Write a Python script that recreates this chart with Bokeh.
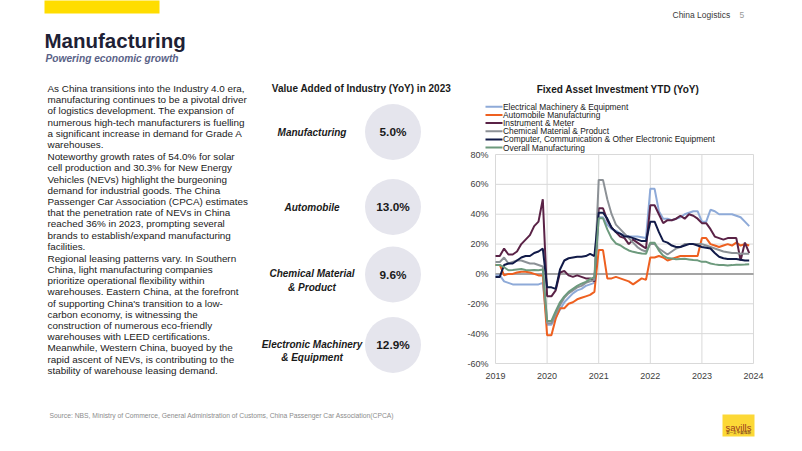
from bokeh.plotting import figure
from bokeh.models import Range1d
from bokeh.layouts import column, row
from bokeh.embed import file_html
from bokeh.resources import INLINE
from bokeh.core.properties import value

FONT = "Liberation Sans"

# ---------------- data ----------------
years = [2019, 2020, 2021, 2022, 2023]
x_ticks = [2019, 2020, 2021, 2022, 2023, 2024]
y_ticks = [-60, -40, -20, 0, 20, 40, 60, 80]

series_names = ["Electrical Machinery & Equipment", "Automobile Manufacturing",
                "Instrument & Meter", "Chemical Material & Product",
                "Computer, Communication & Other Electronic Equipment",
                "Overall Manufacturing"]
series_colors = ["#8eaad8", "#ee6020", "#5a2246", "#8c9196", "#111a48", "#6d9a7d"]

electrical = [-1, -1, -5, -6, -7, -7, -7, -7, -7, -7, -7, -6,
              -34, -34, -29, -24, -19, -16, -13, -11, -10, -8, -7, -6,
              38, 38, 33, 30, 29, 27, 26, 25, 25, 25, 24.5, 24,
              57, 57, 42, 37, 37, 36, 37, 38, 40, 41, 42, 42,
              35, 35, 43, 42, 40, 40, 40, 40, 39, 38, 35, 32]
automobile = [6, 6, -1, 0, 0, 1, 1.5, 1.5, 1, 0, -1, -1,
              -41, -41, -30, -23, -23, -20, -19, -17, -16, -15, -14, -12,
              16, 16, -3, -3, -2, -3, -4, -5, -7, -5, -3, -4,
              11, 11, 12, 11, 9, 10, 11, 12, 12, 12, 12, 12,
              24, 24, 20, 19, 18, 19, 20, 19, 21, 19, 20, 19]
instrument = [12, 12, 17, 13, 13, 15, 20, 23, 26, 32, 35, 50,
              -15, -15, -11, 1, 2, -1, -2, -1, -2, -3, -3, -5,
              44, 44, 36, 31, 28, 25, 24, 20, 23, 21, 19, 17,
              46, 46, 40, 34, 36, 36, 37, 39, 37, 40, 39, 37,
              34, 34, 30, 25, 24, 23, 24, 24, 24, 9, 21, 14]
chemical = [8, 8, 11, 7, 8, 9, 9, 8, 7, 7, 6, 5,
            -33, -33, -27, -21, -16, -13, -11, -9, -8, -6, -5, -4,
            63, 63, 50, 40, 33, 30, 27, 24, 21, 18, 16, 15,
            20, 20, 17, 15, 13, 15, 17, 18, 20, 20, 20, 20,
            20, 19, 18, 17, 16, 15, 14.5, 14, 14, 13.5, 13.5, 13.5]
computer = [-2, -2, 6, 7, 7, 9, 11, 12, 12, 14, 15, 17,
            -9, -9, -10, 3, 9, 10.5, 11, 11.5, 11.5, 12, 13.5, 12,
            41, 41, 37, 31, 28, 27, 25, 25, 24, 23, 22, 22,
            35, 35, 28, 22, 21, 19, 18, 18, 19, 20, 20, 19,
            18, 17.5, 17, 14, 11.5, 10.5, 10, 10, 10, 9.5, 9, 9]
overall = [6, 6, 4.5, 2.5, 2.7, 3, 3.3, 2.6, 2.5, 2.6, 2.5, 3,
           -31.5, -31.5, -25, -19, -15, -12, -10, -8, -6.5, -5.3, -3.5, -2.2,
           37.3, 37.3, 29.8, 23.8, 20.4, 19.2, 17.3, 15.7, 14.8, 14.2, 13.7, 13.5,
           20.9, 20.9, 15.6, 12.2, 10.6, 10.4, 9.9, 10, 10.1, 9.7, 9.3, 9.1,
           8.1, 8.1, 7, 6.4, 6, 6, 5.7, 5.9, 6.2, 6.2, 6.3, 6.5]
series_values = [electrical, automobile, instrument, chemical, computer, overall]

va_title = "Value Added of Industry (YoY) in 2023"
va_categories = ["Manufacturing", "Automobile", "Chemical Material\n& Product",
                 "Electronic Machinery\n& Equipment"]
va_values = [5.0, 13.0, 9.6, 12.9]

slide_title = "Manufacturing"
slide_subtitle = "Powering economic growth"
header_text = "China Logistics"
page_number = "5"
chart_title = "Fixed Asset Investment YTD (YoY)"
source_text = ("Source: NBS, Ministry of Commerce, General Administration of Customs, "
               "China Passenger Car Association(CPCA)")

paragraphs = [
    ["As China transitions into the Industry 4.0 era,",
     "manufacturing continues to be a pivotal driver",
     "of logistics development. The expansion of",
     "numerous high-tech manufacturers is fuelling",
     "a significant increase in demand for Grade A",
     "warehouses."],
    ["Noteworthy growth rates of 54.0% for solar",
     "cell production and 30.3% for New Energy",
     "Vehicles (NEVs) highlight the burgeoning",
     "demand for industrial goods. The China",
     "Passenger Car Association (CPCA) estimates",
     "that the penetration rate of NEVs in China",
     "reached 36% in 2023, prompting several",
     "brands to establish/expand manufacturing",
     "facilities."],
    ["Regional leasing patterns vary. In Southern",
     "China, light manufacturing companies",
     "prioritize operational flexibility within",
     "warehouses. Eastern China, at the forefront",
     "of supporting China's transition to a low-",
     "carbon economy, is witnessing the",
     "construction of numerous eco-friendly",
     "warehouses with LEED certifications.",
     "Meanwhile, Western China, buoyed by the",
     "rapid ascent of NEVs, is contributing to the",
     "stability of warehouse leasing demand."],
]

# ---------------- layout (slide pixel space) ----------------
X0, X1 = 1, 797          # horizontal extent of the page content
Y0, YM0, YM1, Y1 = 1, 72, 398, 446
XSPLIT = 460             # left text block | chart
PLOT_L, PLOT_R, PLOT_T, PLOT_B = 496, 754, 155, 364   # chart plot area


def blank(x0, x1, y0, y1):
    p = figure(width=int(x1 - x0), height=int(y1 - y0),
               x_range=Range1d(x0, x1), y_range=Range1d(y1, y0),
               output_backend="svg", toolbar_location=None,
               x_axis_location=None, y_axis_location=None,
               min_border=0, outline_line_color=None, title=None)
    p.grid.visible = False
    p.background_fill_color = "white"
    p.border_fill_color = "white"
    return p


def txt(p, x, y, t, size, color="#1a1a1a", style="normal", align="left",
        baseline="middle", font=FONT):
    p.text(x=[x], y=[y], text=[t], text_font=value(font), text_font_size=size,
           text_color=color, text_font_style=style, text_align=align,
           text_baseline=baseline)


# ---------------- header ----------------
top = blank(X0, X1, Y0, YM0)
top.quad(left=[45], right=[160], top=[0], bottom=[14], color="#ffdd00", line_color=None)
txt(top, 45, 40.7, slide_title, "20.5px", "#1e2135", "bold", baseline="alphabetic")
txt(top, 46, 59, slide_subtitle, "10.2px", "#5a6287", "bold italic", baseline="alphabetic")
txt(top, 673, 15, header_text, "8.5px", "#3a3a3a")
txt(top, 740, 15, page_number, "8.5px", "#9a9a9a")

# ---------------- left part ----------------
left = blank(X0, XSPLIT, YM0, YM1)
line_gap = 11.2
ypos = 89.0
for para in paragraphs:
    for ln in para:
        txt(left, 48, ypos, ln, "9.9px", "#1a1a1a")
        ypos += line_gap
    ypos += 0.9

txt(left, 362, 89, va_title, "10px", "#1a1a1a", "bold", align="center")
circle_y = [132.5, 207.5, 275, 345.5]
left.scatter(x=[393.5] * len(va_values), y=circle_y, size=56, marker="circle",
             fill_color="#e5e5ed", line_color=None)
left.text(x=[393.5] * len(va_values), y=circle_y,
          text=[f"{v:.1f}%" for v in va_values], text_font=value(FONT),
          text_font_size="11.8px", text_font_style="bold", text_color="#1a1a1a",
          text_align="center", text_baseline="middle")
label_y = [cy + 6.1 * c.count("\n") for cy, c in zip(circle_y, va_categories)]
left.text(x=[312.5] * len(va_categories), y=label_y, text=va_categories,
          text_font=value(FONT), text_font_size="10px", text_font_style="bold italic",
          text_color="#1a1a1a", text_align="center", text_baseline="middle",
          text_line_height=1.22)

# ---------------- chart ----------------
px_per_year = (PLOT_R - PLOT_L) / (x_ticks[-1] - x_ticks[0])
px_per_pct = (PLOT_B - PLOT_T) / (y_ticks[-1] - y_ticks[0])


def dx(px):
    return x_ticks[0] + (px - PLOT_L) / px_per_year


def dy(py):
    return y_ticks[-1] - (py - PLOT_T) / px_per_pct


ch = figure(width=X1 - XSPLIT, height=YM1 - YM0,
            x_range=Range1d(dx(XSPLIT), dx(X1)), y_range=Range1d(dy(YM1), dy(YM0)),
            output_backend="svg", toolbar_location=None, title=None,
            x_axis_location=None, y_axis_location=None, min_border=0,
            outline_line_color=None)
ch.grid.visible = False
ch.background_fill_color = "white"
ch.border_fill_color = "white"

grid_col = "#d9d9d9"
ch.segment(x0=[x_ticks[0]] * len(y_ticks), x1=[x_ticks[-1]] * len(y_ticks),
           y0=y_ticks, y1=y_ticks, line_color=grid_col, line_width=1)
ch.segment(x0=x_ticks, x1=x_ticks, y0=[y_ticks[0]] * len(x_ticks),
           y1=[y_ticks[-1]] * len(x_ticks), line_color=grid_col, line_width=1)
ch.segment(x0=[x_ticks[0]], x1=[x_ticks[-1]], y0=[0], y1=[0],
           line_color="#8c8c8c", line_width=1.6)

ch.text(x=[x_ticks[0]] * len(y_ticks), y=y_ticks, text=[f"{t}%" for t in y_ticks],
        x_offset=-7, text_align="right", text_baseline="middle", text_font=value(FONT),
        text_font_size="9px", text_color="#404040")
ch.text(x=x_ticks, y=[y_ticks[0]] * len(x_ticks), text=[str(t) for t in x_ticks],
        y_offset=12, text_align="center", text_baseline="middle", text_font=value(FONT),
        text_font_size="9px", text_color="#404040")

xs = [yr + (m - 1) / 12 for yr in years for m in range(1, 13)]
for color, vals in zip(series_colors, series_values):
    ch.line(xs, vals, line_color=color, line_width=2)

# legend (compact: key lines + labels)
LEG_X0, LEG_X1, LEG_Y0, LEG_DY = 486, 503, 107.3, 8.15
leg_y = [dy(LEG_Y0 + k * LEG_DY) for k in range(len(series_names))]
ch.segment(x0=[dx(LEG_X0)] * len(leg_y), x1=[dx(LEG_X1)] * len(leg_y), y0=leg_y, y1=leg_y,
           line_color=series_colors, line_width=2)
ch.text(x=[dx(LEG_X1 + 0.5)] * len(leg_y), y=leg_y, text=series_names,
        text_align="left", text_baseline="middle", text_font=value(FONT),
        text_font_size="8.4px", text_color="#1a1a1a")

ch.text(x=[dx(618.5)], y=[dy(90)], text=[chart_title], text_align="center",
        text_baseline="middle", text_font=value(FONT), text_font_size="10px",
        text_font_style="bold", text_color="#1a1a1a")

# ---------------- footer ----------------
bot = blank(X0, X1, YM1, Y1)
txt(bot, 50, 416, source_text, "6.75px", "#8c8c8c")
bot.quad(left=[723], right=[755], top=[415], bottom=[437], color="#fcd836", line_color=None)
txt(bot, 739, 427.5, "savills", "9.5px", "#9a3a1e", align="center", baseline="alphabetic")
txt(bot, 739, 433, "第一太平戴维斯", "3.6px", "#6a2a18", align="center",
    font="Noto Sans CJK SC")

layout = column(top, row(left, ch), bot)
open("out.html", "w").write(file_html(layout, INLINE))
